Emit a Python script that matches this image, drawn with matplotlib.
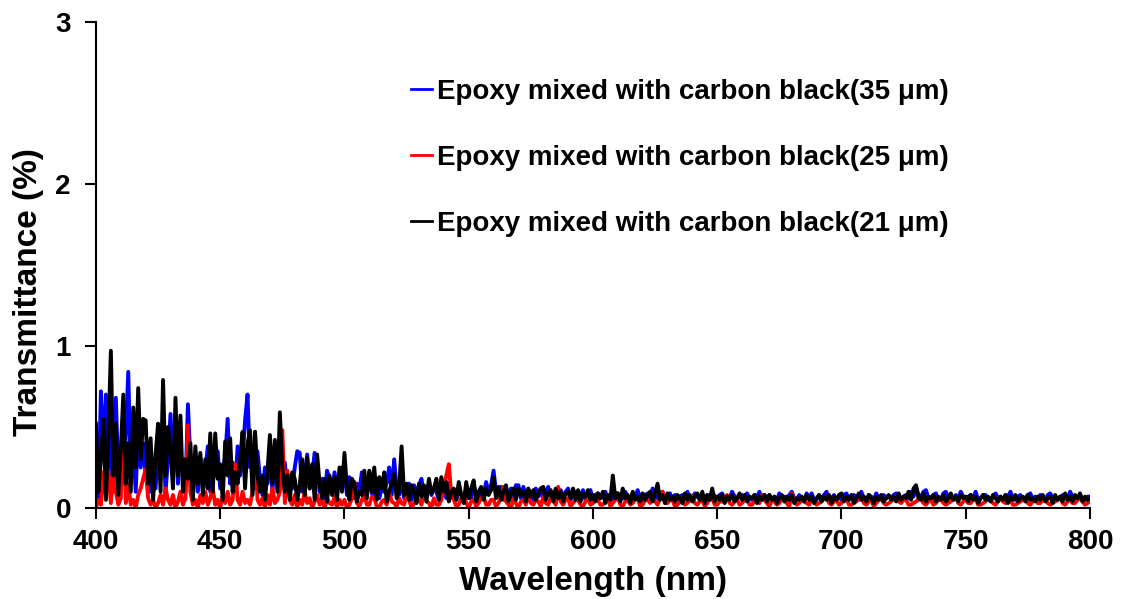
import numpy as np
import matplotlib
matplotlib.use("Agg")
import matplotlib.pyplot as plt

plt.rcParams['font.family'] = ['Liberation Sans', 'DejaVu Sans']
plt.rcParams['font.weight'] = 'bold'

# wavelength grid, 1 nm steps
wl = np.arange(400, 801)

# 35 um sample (blue)
blue_400 = [0.20, 0.05, 0.72, 0.30, 0.70, 0.15, 0.45, 0.10, 0.68, 0.20,
            0.30, 0.15, 0.45, 0.84, 0.20, 0.40, 0.10, 0.50, 0.25, 0.40,
            0.20, 0.40, 0.10, 0.30, 0.12, 0.35, 0.28, 0.45, 0.10, 0.30,
            0.58, 0.20, 0.45, 0.15, 0.35, 0.22, 0.10, 0.64, 0.30, 0.15,
            0.25, 0.10, 0.31, 0.15, 0.22, 0.38, 0.10, 0.30, 0.20, 0.35,
            0.12, 0.25, 0.30, 0.55, 0.15, 0.28, 0.10, 0.38, 0.20, 0.30,
            0.54, 0.70, 0.25, 0.30, 0.12, 0.35, 0.18, 0.08, 0.25, 0.15,
            0.35, 0.10, 0.30, 0.20, 0.40, 0.15, 0.28, 0.10, 0.20, 0.12,
            0.25, 0.35, 0.34, 0.10, 0.20, 0.33, 0.12, 0.20, 0.34, 0.28,
            0.10, 0.18, 0.06, 0.23, 0.18, 0.10, 0.22, 0.12, 0.18, 0.25]
blue_500 = [0.22, 0.08, 0.19, 0.12, 0.06, 0.15, 0.10, 0.22, 0.05, 0.14,
            0.22, 0.09, 0.08, 0.18, 0.06, 0.12, 0.10, 0.16, 0.25, 0.08,
            0.30, 0.12, 0.08, 0.16, 0.06, 0.12, 0.15, 0.05, 0.14, 0.09,
            0.14, 0.18, 0.06, 0.10, 0.15, 0.08, 0.12, 0.10, 0.05, 0.12,
            0.12, 0.06, 0.15, 0.09, 0.10, 0.05, 0.11, 0.08, 0.05, 0.11,
            0.11, 0.06, 0.14, 0.09, 0.06, 0.12, 0.08, 0.16, 0.10, 0.14,
            0.23, 0.10, 0.08, 0.13, 0.05, 0.12, 0.08, 0.12, 0.05, 0.14,
            0.14, 0.06, 0.13, 0.08, 0.11, 0.09, 0.05, 0.12, 0.07, 0.12,
            0.05, 0.10, 0.13, 0.07, 0.08, 0.11, 0.06, 0.11, 0.07, 0.10,
            0.12, 0.05, 0.09, 0.10, 0.06, 0.08, 0.11, 0.05, 0.09, 0.11]
blue_600 = [0.05, 0.08, 0.09, 0.06, 0.07, 0.10, 0.05, 0.08, 0.05, 0.09,
            0.09, 0.05, 0.06, 0.10, 0.07, 0.05, 0.09, 0.07, 0.11, 0.06,
            0.05, 0.08, 0.09, 0.06, 0.12, 0.07, 0.06, 0.09, 0.10, 0.05,
            0.07, 0.09, 0.05, 0.08, 0.05, 0.07, 0.08, 0.06, 0.10, 0.05,
            0.06, 0.09, 0.07, 0.05, 0.08, 0.06, 0.08, 0.05, 0.10, 0.07,
            0.06, 0.08, 0.09, 0.05, 0.07, 0.06, 0.10, 0.07, 0.05, 0.08,
            0.08, 0.05, 0.09, 0.06, 0.05, 0.08, 0.07, 0.10, 0.05, 0.08,
            0.06, 0.08, 0.05, 0.07, 0.05, 0.09, 0.06, 0.07, 0.05, 0.08,
            0.10, 0.06, 0.05, 0.08, 0.06, 0.05, 0.09, 0.06, 0.09, 0.05,
            0.05, 0.08, 0.06, 0.08, 0.10, 0.05, 0.06, 0.08, 0.05, 0.07]
blue_700 = [0.05, 0.08, 0.09, 0.05, 0.06, 0.08, 0.07, 0.05, 0.10, 0.06,
            0.05, 0.08, 0.07, 0.05, 0.09, 0.06, 0.05, 0.08, 0.06, 0.07,
            0.06, 0.08, 0.09, 0.05, 0.05, 0.07, 0.08, 0.06, 0.10, 0.07,
            0.13, 0.08, 0.07, 0.10, 0.11, 0.06, 0.06, 0.08, 0.09, 0.05,
            0.05, 0.09, 0.10, 0.06, 0.07, 0.05, 0.08, 0.06, 0.10, 0.07,
            0.05, 0.07, 0.08, 0.06, 0.10, 0.05, 0.06, 0.08, 0.08, 0.05,
            0.05, 0.07, 0.09, 0.06, 0.07, 0.05, 0.08, 0.07, 0.10, 0.06,
            0.05, 0.07, 0.08, 0.05, 0.06, 0.08, 0.09, 0.05, 0.07, 0.06,
            0.08, 0.06, 0.05, 0.08, 0.09, 0.06, 0.07, 0.05, 0.06, 0.08,
            0.08, 0.05, 0.10, 0.07, 0.06, 0.05, 0.08, 0.06, 0.05, 0.07,
            0.07]

# 25 um sample (red)
red_400 = [0.00, 0.05, 0.02, 0.22, 0.08, 0.23, 0.03, 0.24, 0.10, 0.02,
           0.06, 0.59, 0.03, 0.15, 0.02, 0.05, 0.00, 0.08, 0.12, 0.18,
           0.24, 0.06, 0.02, 0.05, 0.00, 0.03, 0.08, 0.02, 0.12, 0.05,
           0.02, 0.08, 0.00, 0.04, 0.10, 0.02, 0.06, 0.51, 0.10, 0.02,
           0.05, 0.00, 0.08, 0.03, 0.10, 0.02, 0.06, 0.12, 0.02, 0.05,
           0.00, 0.08, 0.03, 0.10, 0.02, 0.05, 0.27, 0.05, 0.02, 0.10,
           0.03, 0.05, 0.02, 0.10, 0.47, 0.05, 0.02, 0.06, 0.00, 0.08,
           0.02, 0.12, 0.03, 0.05, 0.10, 0.48, 0.03, 0.23, 0.05, 0.02,
           0.08, 0.00, 0.05, 0.02, 0.10, 0.03, 0.06, 0.00, 0.04, 0.08,
           0.02, 0.05, 0.00, 0.06, 0.03, 0.02, 0.07, 0.00, 0.05, 0.02]
red_500 = [0.05, 0.00, 0.02, 0.06, 0.16, 0.03, 0.01, 0.05, 0.08, 0.02,
           0.02, 0.07, 0.06, 0.01, 0.00, 0.04, 0.05, 0.02, 0.10, 0.04,
           0.03, 0.01, 0.06, 0.03, 0.02, 0.08, 0.05, 0.00, 0.03, 0.06,
           0.05, 0.02, 0.10, 0.04, 0.03, 0.00, 0.06, 0.02, 0.02, 0.05,
           0.12, 0.20, 0.27, 0.08, 0.05, 0.01, 0.02, 0.06, 0.08, 0.03,
           0.00, 0.04, 0.05, 0.01, 0.03, 0.06, 0.07, 0.02, 0.02, 0.05,
           0.05, 0.01, 0.03, 0.07, 0.13, 0.04, 0.02, 0.00, 0.06, 0.03,
           0.00, 0.04, 0.05, 0.02, 0.08, 0.03, 0.02, 0.05, 0.04, 0.01,
           0.07, 0.03, 0.02, 0.06, 0.05, 0.02, 0.13, 0.04, 0.02, 0.05,
           0.06, 0.01, 0.03, 0.05, 0.05, 0.02, 0.01, 0.04, 0.06, 0.02]
red_600 = [0.03, 0.05, 0.05, 0.02, 0.02, 0.04, 0.06, 0.01, 0.03, 0.05,
           0.07, 0.02, 0.01, 0.04, 0.05, 0.02, 0.03, 0.06, 0.06, 0.01,
           0.02, 0.05, 0.05, 0.03, 0.08, 0.04, 0.02, 0.06, 0.10, 0.03,
           0.03, 0.05, 0.05, 0.01, 0.02, 0.04, 0.06, 0.02, 0.03, 0.05,
           0.07, 0.03, 0.02, 0.04, 0.05, 0.01, 0.03, 0.06, 0.06, 0.02,
           0.02, 0.04, 0.04, 0.06, 0.08, 0.03, 0.02, 0.04, 0.05, 0.02,
           0.03, 0.05, 0.06, 0.02, 0.02, 0.04, 0.05, 0.03, 0.08, 0.05,
           0.03, 0.01, 0.05, 0.04, 0.02, 0.03, 0.06, 0.05, 0.03, 0.01,
           0.09, 0.05, 0.02, 0.03, 0.05, 0.04, 0.03, 0.02, 0.06, 0.04,
           0.02, 0.03, 0.04, 0.06, 0.07, 0.03, 0.02, 0.04, 0.05, 0.02]
red_700 = [0.03, 0.05, 0.06, 0.02, 0.02, 0.03, 0.04, 0.06, 0.07, 0.03,
           0.02, 0.04, 0.05, 0.01, 0.03, 0.05, 0.06, 0.03, 0.02, 0.03,
           0.04, 0.06, 0.07, 0.04, 0.03, 0.05, 0.05, 0.02, 0.02, 0.03,
           0.04, 0.05, 0.06, 0.03, 0.02, 0.04, 0.05, 0.02, 0.03, 0.05,
           0.06, 0.03, 0.02, 0.03, 0.04, 0.06, 0.07, 0.03, 0.02, 0.04,
           0.05, 0.03, 0.03, 0.05, 0.06, 0.02, 0.02, 0.03, 0.04, 0.06,
           0.05, 0.03, 0.02, 0.04, 0.06, 0.04, 0.03, 0.05, 0.05, 0.02,
           0.02, 0.03, 0.04, 0.05, 0.06, 0.03, 0.02, 0.04, 0.05, 0.03,
           0.03, 0.05, 0.06, 0.03, 0.02, 0.03, 0.04, 0.05, 0.07, 0.03,
           0.02, 0.04, 0.05, 0.03, 0.03, 0.05, 0.06, 0.04, 0.02, 0.03,
           0.04]

# 21 um sample (black)
black_400 = [0.52, 0.10, 0.30, 0.55, 0.05, 0.45, 0.97, 0.20, 0.52, 0.08,
             0.36, 0.70, 0.15, 0.40, 0.10, 0.62, 0.25, 0.74, 0.30, 0.55,
             0.54, 0.15, 0.43, 0.05, 0.33, 0.52, 0.10, 0.79, 0.20, 0.50,
             0.35, 0.12, 0.68, 0.20, 0.57, 0.10, 0.30, 0.18, 0.40, 0.05,
             0.38, 0.15, 0.34, 0.08, 0.30, 0.12, 0.46, 0.10, 0.46, 0.18,
             0.27, 0.05, 0.41, 0.20, 0.43, 0.10, 0.22, 0.15, 0.30, 0.47,
             0.12, 0.40, 0.48, 0.08, 0.47, 0.20, 0.10, 0.20, 0.05, 0.22,
             0.45, 0.15, 0.42, 0.10, 0.59, 0.25, 0.10, 0.20, 0.05, 0.22,
             0.18, 0.05, 0.14, 0.30, 0.08, 0.31, 0.12, 0.27, 0.05, 0.33,
             0.15, 0.06, 0.18, 0.04, 0.20, 0.08, 0.19, 0.05, 0.25, 0.10]
black_500 = [0.34, 0.12, 0.05, 0.18, 0.15, 0.04, 0.10, 0.08, 0.23, 0.06,
             0.23, 0.10, 0.25, 0.05, 0.19, 0.12, 0.22, 0.04, 0.10, 0.15,
             0.21, 0.06, 0.12, 0.38, 0.08, 0.15, 0.05, 0.14, 0.10, 0.03,
             0.15, 0.07, 0.14, 0.04, 0.18, 0.09, 0.12, 0.18, 0.05, 0.19,
             0.10, 0.16, 0.04, 0.10, 0.12, 0.05, 0.16, 0.08, 0.03, 0.16,
             0.06, 0.12, 0.17, 0.04, 0.10, 0.13, 0.05, 0.12, 0.08, 0.11,
             0.19, 0.06, 0.13, 0.05, 0.10, 0.14, 0.04, 0.09, 0.12, 0.05,
             0.12, 0.08, 0.10, 0.04, 0.12, 0.07, 0.11, 0.05, 0.09, 0.12,
             0.13, 0.05, 0.09, 0.11, 0.04, 0.12, 0.06, 0.10, 0.04, 0.09,
             0.10, 0.06, 0.12, 0.05, 0.11, 0.04, 0.09, 0.07, 0.11, 0.05]
black_600 = [0.08, 0.04, 0.09, 0.06, 0.10, 0.03, 0.08, 0.05, 0.20, 0.06,
             0.09, 0.04, 0.12, 0.06, 0.08, 0.03, 0.10, 0.05, 0.07, 0.04,
             0.09, 0.05, 0.08, 0.10, 0.04, 0.09, 0.15, 0.05, 0.08, 0.03,
             0.09, 0.05, 0.07, 0.04, 0.08, 0.06, 0.03, 0.09, 0.05, 0.08,
             0.04, 0.07, 0.09, 0.05, 0.10, 0.03, 0.08, 0.05, 0.12, 0.04,
             0.07, 0.05, 0.08, 0.03, 0.07, 0.05, 0.08, 0.04, 0.06, 0.09,
             0.05, 0.08, 0.04, 0.07, 0.06, 0.08, 0.03, 0.07, 0.05, 0.08,
             0.04, 0.08, 0.05, 0.07, 0.03, 0.06, 0.08, 0.04, 0.07, 0.05,
             0.08, 0.03, 0.06, 0.05, 0.07, 0.04, 0.08, 0.05, 0.07, 0.03,
             0.06, 0.08, 0.04, 0.07, 0.05, 0.08, 0.03, 0.07, 0.05, 0.08]
black_700 = [0.09, 0.04, 0.07, 0.05, 0.08, 0.03, 0.06, 0.09, 0.05, 0.07,
             0.04, 0.08, 0.06, 0.03, 0.07, 0.05, 0.08, 0.04, 0.06, 0.08,
             0.05, 0.07, 0.04, 0.09, 0.05, 0.07, 0.06, 0.10, 0.05, 0.12,
             0.14, 0.06, 0.05, 0.09, 0.04, 0.07, 0.06, 0.08, 0.04, 0.07,
             0.05, 0.08, 0.04, 0.06, 0.09, 0.05, 0.07, 0.04, 0.08, 0.06,
             0.07, 0.04, 0.08, 0.05, 0.07, 0.03, 0.06, 0.08, 0.05, 0.07,
             0.04, 0.08, 0.06, 0.04, 0.07, 0.05, 0.08, 0.03, 0.07, 0.05,
             0.08, 0.04, 0.06, 0.07, 0.04, 0.08, 0.05, 0.06, 0.04, 0.07,
             0.05, 0.08, 0.04, 0.06, 0.07, 0.03, 0.08, 0.05, 0.07, 0.04,
             0.09, 0.05, 0.07, 0.04, 0.08, 0.06, 0.09, 0.04, 0.07, 0.05,
             0.06]

labels = ["Epoxy mixed with carbon black(35 μm)",
          "Epoxy mixed with carbon black(25 μm)",
          "Epoxy mixed with carbon black(21 μm)"]
colors = ["#0000ff", "#ff0000", "#000000"]

series = [blue_400 + blue_500 + blue_600 + blue_700,
          red_400 + red_500 + red_600 + red_700,
          black_400 + black_500 + black_600 + black_700]

fig = plt.figure(figsize=(11.21, 5.99), dpi=100)
ax = fig.add_axes([0.0856, 0.152, 0.8867, 0.8115])

for vals, col, lab in zip(series, colors, labels):
    ax.plot(wl, vals, color=col, lw=2.8, label=lab)

ax.set_xlim(400, 800)
ax.set_ylim(0, 3)
ax.set_xticks(range(400, 801, 50))
ax.set_yticks([0, 1, 2, 3])
ax.tick_params(direction='out', length=8, width=1.5, labelsize=20)
ax.tick_params(axis='y', pad=10)
ax.tick_params(axis='x', pad=7)
for lbl in ax.get_xticklabels() + ax.get_yticklabels():
    lbl.set_fontweight('bold')
ax.spines['top'].set_visible(False)
ax.spines['right'].set_visible(False)
ax.spines['left'].set_linewidth(1.5)
ax.spines['bottom'].set_linewidth(1.5)

ax.set_xlabel("Wavelength (nm)", fontsize=24, fontweight='bold', labelpad=8)
ax.set_ylabel("Transmittance (%)", fontsize=24, fontweight='bold')
ax.yaxis.set_label_coords(-0.052, 0.444)

leg = ax.legend(loc='upper left', bbox_to_anchor=(0.317, 0.882), frameon=False,
                fontsize=20, handlelength=0.75, handletextpad=0.2,
                labelspacing=1.44, borderpad=0, borderaxespad=0)
for t in leg.get_texts():
    t.set_fontweight('bold')
for h in leg.get_lines():
    h.set_linewidth(2)

fig.savefig("out.png", dpi=100)
